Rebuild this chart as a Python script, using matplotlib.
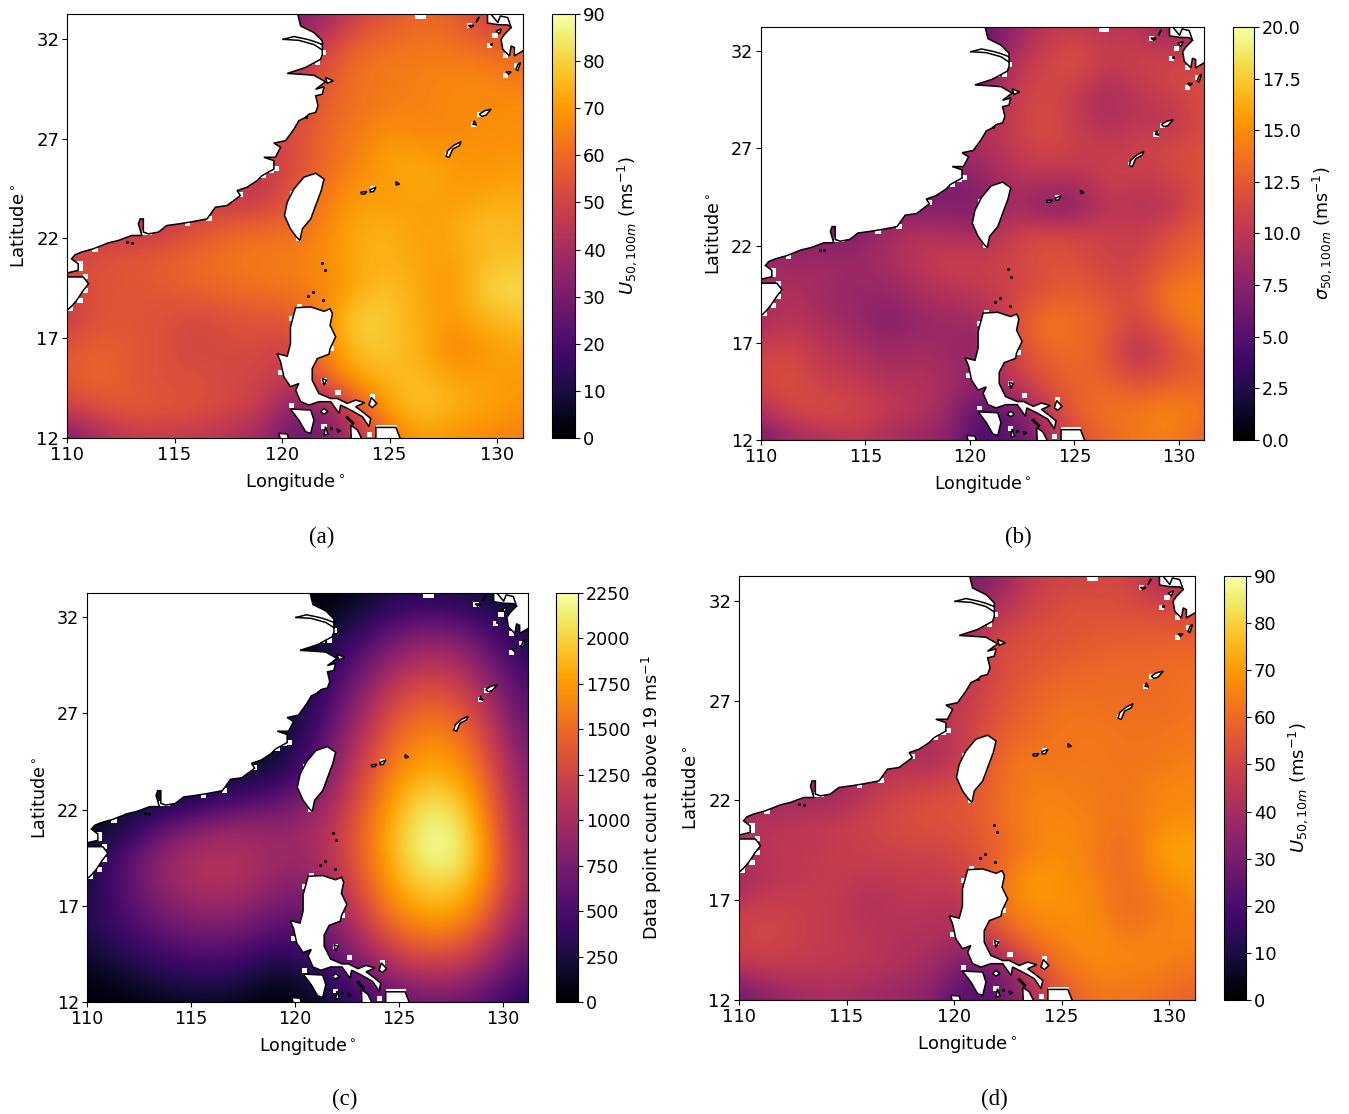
import numpy as np
import matplotlib
matplotlib.use('Agg')
import matplotlib.pyplot as plt
from matplotlib.patches import Polygon, Rectangle

# grid of read-off values, top row is lat 33, 1.5 degree steps
grid_lon = [110, 111.5, 113, 114.5, 116, 117.5, 119, 120.5, 122, 123.5, 125, 126.5, 128, 129.5, 131]
grid_lat = [33, 31.5, 30, 28.5, 27, 25.5, 24, 22.5, 21, 19.5, 18, 16.5, 15, 13.5, 12]

u100 = [
    [30, 30, 30, 30, 30, 30, 30, 30, 38, 50, 55, 60, 58, 48, 48],
    [40, 40, 40, 40, 40, 40, 40, 40, 50, 60, 62, 63, 62, 60, 58],
    [45, 45, 45, 45, 45, 45, 45, 45, 56, 62, 64, 65, 67, 66, 64],
    [50, 50, 50, 50, 50, 50, 50, 50, 58, 62, 64, 65, 66, 67, 68],
    [50, 50, 50, 50, 50, 50, 50, 52, 60, 64, 70, 66, 67, 68, 68],
    [46, 46, 46, 46, 46, 46, 46, 52, 60, 66, 72, 74, 70, 69, 70],
    [46, 46, 46, 46, 46, 46, 46, 56, 64, 71, 69, 72, 70, 72, 74],
    [46, 46, 46, 46, 54, 58, 60, 60, 66, 73, 75, 70, 73, 78, 75],
    [50, 54, 56, 58, 60, 63, 64, 65, 67, 74, 74, 72, 71, 76, 77],
    [50, 55, 55, 56, 59, 60, 62, 63, 66, 72, 78, 72, 68, 82, 82],
    [46, 55, 55, 54, 51, 54, 55, 56, 66, 82, 78, 73, 70, 75, 78],
    [56, 58, 56, 54, 50, 52, 52, 48, 66, 78, 78, 74, 64, 70, 72],
    [56, 60, 56, 53, 54, 51, 50, 46, 60, 72, 76, 76, 72, 71, 70],
    [50, 54, 57, 56, 54, 52, 48, 32, 32, 55, 72, 79, 74, 72, 69],
    [28, 40, 46, 46, 46, 42, 38, 26, 30, 42, 62, 70, 68, 66, 64],
]
sigma100 = [
    [5, 5, 5, 5, 5, 5, 5, 5, 8, 10, 10.5, 10, 10, 8, 9],
    [6, 6, 6, 6, 6, 6, 6, 6, 9.5, 11, 12.5, 10.5, 11, 11.5, 11],
    [7, 7, 7, 7, 7, 7, 7, 7, 10.5, 11.5, 10.5, 9, 10, 11, 12],
    [9, 9, 9, 9, 9, 9, 9, 9, 10.5, 12, 10.5, 9, 10, 9.5, 11.5],
    [9, 9, 9, 9, 9, 9, 9, 9, 10.5, 11.5, 11, 10.5, 11, 11.5, 12],
    [7, 7, 7, 7, 7, 7, 7, 8, 9.5, 10, 9.5, 11, 10.5, 11, 12],
    [7, 7, 7, 7, 7, 7, 7, 6.5, 9, 7, 7, 10, 9.5, 9.5, 12],
    [7, 7, 7, 7, 9, 10, 9.5, 9, 11, 12, 11.5, 11, 10.5, 12, 13],
    [9, 8.5, 9, 8.5, 9, 10, 11, 11, 11, 12, 12, 11, 11, 12.5, 13.5],
    [9, 9.5, 8.5, 8, 8, 9, 9.5, 10, 11, 12, 13, 12, 11.5, 14.5, 14.5],
    [9, 10, 9, 8.5, 7, 8, 8.5, 8.5, 11.5, 14.5, 13.5, 13, 11, 13, 14.5],
    [11, 11.5, 10, 9.5, 8.5, 9, 8.5, 7.5, 11, 13, 13.5, 12.5, 9, 11.5, 13],
    [11.5, 12, 10.5, 10.5, 9.5, 9.5, 9, 7.5, 10.5, 12, 13, 13, 12, 12.5, 13],
    [9.5, 11.5, 12, 11.5, 10.5, 10, 8.5, 5, 6, 10, 13, 14, 14, 15, 14],
    [6, 8.5, 9, 10, 9, 8, 7.5, 4, 5, 8, 11.5, 13, 14, 14.5, 13],
]
count19 = [
    [30, 30, 30, 30, 30, 30, 30, 30, 60, 180, 300, 300, 280, 200, 150],
    [60, 60, 60, 60, 60, 60, 60, 60, 200, 400, 620, 700, 620, 430, 250],
    [100, 100, 100, 100, 100, 100, 100, 100, 380, 650, 900, 1050, 950, 650, 350],
    [180, 180, 180, 180, 180, 180, 180, 180, 520, 850, 1200, 1300, 1200, 850, 500],
    [200, 200, 200, 200, 200, 200, 200, 280, 650, 1050, 1400, 1530, 1430, 1050, 600],
    [120, 120, 120, 120, 120, 120, 120, 380, 780, 1200, 1550, 1700, 1600, 1200, 700],
    [200, 200, 200, 200, 200, 200, 230, 500, 900, 1350, 1700, 1850, 1750, 1350, 800],
    [200, 200, 200, 200, 350, 480, 600, 750, 1050, 1450, 1850, 2080, 1950, 1450, 850],
    [100, 200, 500, 750, 900, 950, 900, 950, 1150, 1550, 1950, 2230, 2120, 1550, 900],
    [250, 500, 800, 1000, 1080, 1050, 950, 950, 1150, 1550, 1950, 2230, 2150, 1600, 950],
    [200, 500, 780, 980, 1060, 1030, 880, 800, 1050, 1450, 1850, 2000, 1950, 1550, 950],
    [300, 480, 650, 800, 850, 820, 680, 600, 900, 1300, 1650, 1800, 1750, 1350, 850],
    [220, 350, 480, 580, 620, 580, 430, 500, 720, 1050, 1350, 1480, 1400, 1100, 700],
    [100, 180, 280, 340, 370, 330, 180, 230, 480, 750, 1000, 1100, 1050, 800, 500],
    [10, 40, 90, 130, 150, 90, 20, 100, 250, 450, 600, 700, 650, 500, 300],
]
u10 = [
    [28, 28, 28, 28, 28, 28, 28, 28, 34, 46, 50, 50, 52, 40, 42],
    [35, 35, 35, 35, 35, 35, 35, 35, 44, 50, 54, 55, 53, 53, 52],
    [40, 40, 40, 40, 40, 40, 40, 40, 52, 54, 55, 56, 58, 58, 58],
    [44, 44, 44, 44, 44, 44, 44, 44, 52, 56, 58, 60, 60, 60, 62],
    [46, 46, 46, 46, 46, 46, 46, 46, 54, 58, 62, 61, 61, 60, 62],
    [42, 42, 42, 42, 42, 42, 42, 48, 56, 60, 63, 63, 62, 62, 63],
    [42, 42, 42, 42, 42, 42, 40, 48, 60, 64, 62, 64, 62, 63, 65],
    [36, 36, 36, 36, 44, 50, 52, 54, 60, 65, 65, 63, 63, 66, 66],
    [42, 44, 46, 47, 50, 53, 55, 55, 60, 66, 66, 65, 62, 66, 68],
    [42, 46, 45, 47, 49, 50, 50, 52, 58, 64, 68, 64, 58, 72, 72],
    [38, 44, 46, 48, 44, 46, 47, 48, 60, 72, 68, 66, 60, 66, 70],
    [48, 50, 48, 46, 42, 45, 44, 42, 62, 68, 68, 68, 58, 64, 66],
    [50, 52, 48, 46, 46, 42, 42, 40, 52, 62, 66, 68, 65, 66, 66],
    [44, 46, 46, 46, 44, 42, 40, 26, 28, 48, 62, 66, 66, 65, 62],
    [24, 34, 38, 40, 38, 36, 32, 20, 24, 38, 54, 62, 62, 60, 58],
]

# coastlines, lon/lat
mainland = [(109.9, 33.3), (120.7, 33.3), (120.73, 33.23), (120.86, 32.65), (121.48, 32.32), (121.87, 31.9),
            (121.87, 31.4), (121.87, 31.23), (121.79, 30.98), (121.09, 30.57), (120.24, 30.27), (120.86, 30.23),
            (121.48, 30.18), (122.02, 29.85), (121.56, 29.48), (121.95, 29.6), (121.87, 29.23), (121.56, 29.15),
            (121.67, 28.65), (121.56, 28.32), (121.25, 28.23), (121.09, 28.07), (120.78, 27.9), (120.55, 27.48),
            (120.16, 26.9), (119.62, 26.78), (119.93, 26.57), (119.69, 26.07), (119.15, 26.07), (119.62, 25.9),
            (119.62, 25.48), (119.07, 25.15), (118.84, 24.9), (118.37, 24.57), (117.91, 24.4), (118.06, 24.15),
            (117.44, 23.65), (116.9, 23.57), (116.51, 22.98), (115.73, 22.82), (115.19, 22.73), (114.64, 22.65),
            (114.25, 22.32), (113.79, 22.23), (113.55, 22.32), (113.55, 22.98), (113.4, 22.98), (113.32, 22.73),
            (113.48, 22.15), (113.01, 22.15), (112.39, 21.9), (111.92, 21.78), (111.22, 21.48), (110.68, 21.32),
            (110.37, 21.18), (110.21, 20.98), (110.52, 20.73), (110.52, 20.4), (110.0, 20.27), (109.9, 20.27)]
# Yangtze mouth channels, drawn over the white land
channel_n_lon = [121.87, 121.48, 121.17, 120.55, 120.05]
channel_n_lat = [31.72, 31.88, 31.98, 32.12, 31.98]
channel_s_lon = [120.05, 120.78, 121.48, 121.87]
channel_s_lat = [31.98, 31.93, 31.72, 31.45]
# north Kyushu shore inside the white block
ariake_lon = [129.72, 130.03, 130.15, 130.49, 130.65]
ariake_lat = [33.23, 32.82, 33.15, 33.07, 32.57]
hainan = [(109.9, 20.07), (110.76, 20.07), (111.0, 19.73), (110.76, 19.4), (110.45, 18.9), (110.21, 18.6),
          (110.0, 18.4), (109.9, 18.3)]
taiwan = [(121.56, 25.27), (121.95, 24.98), (121.82, 24.4), (121.56, 23.65), (121.33, 22.98), (120.94, 22.48),
          (120.83, 21.9), (120.67, 22.07), (120.39, 22.48), (120.11, 23.15), (120.24, 23.82), (120.55, 24.48),
          (121.01, 25.07)]
luzon = [(120.63, 18.53), (121.33, 18.57), (121.95, 18.35), (122.23, 18.48), (122.34, 18.23), (122.23, 17.65),
         (122.49, 17.07), (122.23, 16.48), (122.18, 16.2), (121.64, 15.98), (121.4, 15.48), (121.4, 14.9),
         (121.71, 14.23), (122.26, 13.98), (122.57, 13.98), (123.03, 13.73), (123.42, 13.9), (123.84, 13.77),
         (123.42, 13.57), (123.73, 13.32), (124.12, 12.98), (124.04, 12.57), (123.73, 13.07), (123.19, 13.4),
         (122.72, 13.65), (122.65, 13.23), (122.26, 13.82), (121.71, 13.82), (121.25, 13.65), (120.86, 13.82),
         (120.63, 14.4), (120.78, 14.73), (120.39, 14.57), (120.08, 15.07), (119.93, 15.82), (119.77, 16.23),
         (120.24, 16.1), (120.39, 16.73), (120.39, 17.57)]
kyushu = [(129.55, 33.3), (129.55, 32.8), (130.0, 32.72), (130.5, 32.7), (130.65, 32.57),
          (130.34, 32.23), (130.18, 31.98), (130.26, 31.48), (130.57, 31.15), (130.65, 31.65), (130.8, 31.57),
          (130.8, 31.15), (131.27, 31.45), (131.3, 31.45), (131.3, 33.3)]
small_islands = [
    [(120.39, 13.45), (121.33, 13.4), (121.48, 12.9), (121.33, 12.23), (121.09, 12.32), (120.78, 12.9)],
    [(124.15, 14.03), (124.4, 13.73), (124.2, 13.53), (124.04, 13.65)],
    [(124.36, 12.53), (125.29, 12.53), (125.52, 11.9), (124.36, 11.9)],
    [(123.19, 12.65), (123.5, 12.4), (123.73, 11.9), (123.22, 11.9)],
    [(123.03, 13.07), (123.34, 12.73), (123.28, 12.7), (122.98, 13.02)],
    [(119.85, 12.23), (120.24, 12.2), (120.31, 11.9), (119.93, 11.9)],
    [(121.95, 13.48), (122.13, 13.32), (121.95, 13.2), (121.79, 13.32)],
    [(122.02, 12.57), (122.13, 12.2), (121.95, 12.15)],
    [(121.87, 14.98), (122.07, 14.9), (121.95, 14.65)],
    [(122.55, 12.45), (122.72, 12.35), (122.6, 12.3)],
    [(128.32, 26.85), (128.24, 26.65), (127.93, 26.48), (127.77, 26.07), (127.62, 26.12), (127.7, 26.4), (128.0, 26.68)],
    [(129.72, 28.48), (129.48, 28.18), (129.28, 28.12), (129.17, 28.23), (129.41, 28.4)],
    [(128.94, 27.9), (129.03, 27.68), (128.88, 27.73)],
    [(123.66, 24.32), (123.94, 24.35), (123.84, 24.23), (123.69, 24.23)],
    [(124.09, 24.45), (124.36, 24.57), (124.25, 24.35), (124.1, 24.33)],
    [(125.29, 24.85), (125.46, 24.72), (125.3, 24.68)],
    [(131.08, 30.82), (130.96, 30.4), (130.88, 30.48), (130.96, 30.73)],
    [(130.42, 30.35), (130.65, 30.35), (130.52, 30.23)],
    [(129.09, 33.02), (129.17, 33.1), (129.02, 32.82)],
    [(128.66, 32.68), (128.91, 32.68), (128.78, 32.57)],
    [(122.02, 30.07), (122.38, 29.9), (122.1, 29.78)],
    [(129.95, 32.4), (130.2, 32.5), (130.1, 32.25)],
]
islet_lon = [121.84, 121.98, 121.43, 121.22, 121.92, 122.26, 129.72, 121.1, 112.8, 113.0]
islet_lat = [20.78, 20.4, 19.32, 19.1, 18.9, 12.48, 31.73, 28.1, 21.8, 21.78]

# land mask cells left white next to the coast
mask_lon = [126.3, 126.55, 128.7, 129.9, 129.65, 130.4, 130.9, 130.4, 129.2, 128.9, 127.7, 124.2, 119.75, 119.15,
            119.5, 118.05, 116.6, 115.6, 113.85, 113.6, 111.3, 120.5, 120.75, 121.3, 121.65, 121.9, 110.6, 110.6,
            110.85, 110.85, 110.6, 110.15, 120.8, 120.45, 119.95, 121.95, 122.6, 124.2, 120.45, 121.95, 124.5,
            124.75, 125.0, 125.2, 124.05, 122.3, 122.1]
mask_lat = [33.1, 33.1, 32.65, 32.15, 31.65, 31.15, 30.65, 30.15, 28.2, 27.7, 26.2, 24.5, 25.5, 25.15,
            25.4, 24.2, 22.98, 22.75, 22.3, 22.3, 21.45, 24.25, 21.98, 30.8, 30.8, 31.3, 20.73, 20.5,
            20.07, 19.4, 18.9, 18.5, 18.57, 17.98, 15.3, 14.9, 14.3, 14.07, 13.65, 12.57, 12.55,
            12.55, 12.55, 12.55, 12.2, 16.5, 17.9]

lon_ticks = [110, 115, 120, 125, 130]
lat_ticks = [12, 17, 22, 27, 32]
W, H = 1349, 1114


def panel(box, cbox, values, vmax, cticks, clabel, size, fmt=None):
    x0, y0, x1, y1 = box
    ax = fig.add_axes([x0 / W, 1 - y1 / H, (x1 - x0) / W, (y1 - y0) / H])
    im = ax.imshow(np.array(values, dtype=float), cmap='inferno', vmin=0, vmax=vmax, aspect='auto',
                   interpolation='bicubic',
                   extent=[grid_lon[0] - 0.75, grid_lon[-1] + 0.75, grid_lat[-1] - 0.75, grid_lat[0] + 0.75])
    for lo, la in zip(mask_lon, mask_lat):
        ax.add_patch(Rectangle((lo - 0.125, la - 0.125), 0.25, 0.25, fc='white', ec='none', zorder=2))
    for land in [mainland, hainan, taiwan, luzon, kyushu] + small_islands:
        ax.add_patch(Polygon(land, closed=True, fc='white', ec='black', lw=1.1, zorder=3))
    ax.plot(channel_n_lon, channel_n_lat, color='black', lw=1.1, zorder=4)
    ax.plot(channel_s_lon, channel_s_lat, color='black', lw=1.1, zorder=4)
    ax.plot(ariake_lon, ariake_lat, color='black', lw=1.1, zorder=4)
    ax.scatter(islet_lon, islet_lat, s=5, c='black', zorder=4, linewidths=0)
    ax.set_xlim(110, 131.2)
    ax.set_ylim(12, 33.25)
    ax.set_xticks(lon_ticks)
    ax.set_yticks(lat_ticks)
    ax.tick_params(labelsize=size, pad=2)
    ax.set_xlabel('Longitude$^\\circ$', fontsize=size, labelpad=5)
    ax.set_ylabel('Latitude$^\\circ$', fontsize=size, labelpad=6)
    for sp in ax.spines.values():
        sp.set_zorder(6)

    cx0, cx1 = cbox
    cax = fig.add_axes([cx0 / W, 1 - y1 / H, (cx1 - cx0) / W, (y1 - y0) / H])
    cb = fig.colorbar(im, cax=cax, ticks=cticks)
    if fmt:
        cb.ax.set_yticklabels([fmt % t for t in cticks])
    cb.ax.tick_params(labelsize=size, pad=2)
    cb.set_label(clabel, fontsize=size, labelpad=7)


fig = plt.figure(figsize=(W / 100, H / 100), dpi=100)
panel((67, 14, 523, 438), (552, 575), u100, 90, list(range(0, 91, 10)), '$U_{50,100m}$ (ms$^{-1}$)', 13)
panel((761, 27, 1204, 440), (1233, 1254), sigma100, 20, [0, 2.5, 5, 7.5, 10, 12.5, 15, 17.5, 20],
      '$\\sigma_{50,100m}$ (ms$^{-1}$)', 12.6, fmt='%.1f')
panel((87, 593, 528, 1002), (556, 578), count19, 2250, list(range(0, 2251, 250)),
      'Data point count above 19 ms$^{-1}$', 12.6)
panel((739, 576, 1195, 1000), (1224, 1246), u10, 90, list(range(0, 91, 10)), '$U_{50,10m}$ (ms$^{-1}$)', 13)

captions = ['(a)', '(b)', '(c)', '(d)']
cap_x = [322, 1018, 345, 994]
cap_y = [537, 537, 1099, 1099]
for c, x, y in zip(captions, cap_x, cap_y):
    fig.text(x / W, 1 - y / H, c, family='Liberation Serif', fontsize=16.5, ha='center', va='center')

fig.savefig('out.png', dpi=100)
